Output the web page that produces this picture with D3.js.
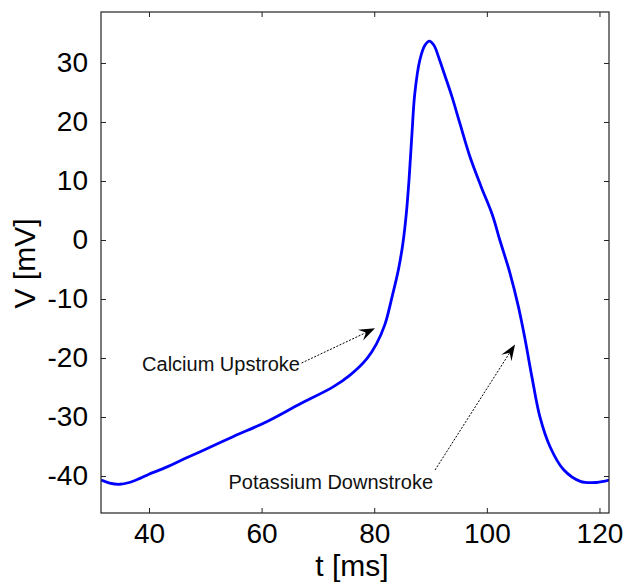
<!DOCTYPE html>
<html><head><meta charset="utf-8">
<script src="https://cdn.jsdelivr.net/npm/d3@7"></script>
<style>html,body{margin:0;padding:0;background:#fff;}svg{display:block;}</style>
</head><body>
<svg id="chart" width="628" height="586"></svg>
<script>
// Time (ms) and membrane voltage (mV)
const timeMs = [31.5, 33, 34.8, 36.5, 38.4, 40, 43.1, 46, 49.1, 55, 60.9, 66.8, 72.7, 75.7, 78.7, 80.4, 81.9, 83.2, 84.3, 85.1, 85.7, 86.2, 86.7, 87.2, 88.1, 89.0, 89.8, 90.6, 91.5, 92.5, 93.8, 95.2, 97, 99.0, 101.0, 102.3, 104.1, 105.6, 106.8, 108, 109.4, 111.2, 113.6, 116.6, 119.5, 121.7];
const voltage = [-40.7, -41.2, -41.4, -41.1, -40.4, -39.7, -38.5, -37.2, -35.9, -33.3, -30.8, -27.8, -24.9, -22.9, -20.1, -17.6, -14.3, -9.5, -5.0, -0.5, 4.5, 10.5, 18.0, 24.8, 30.5, 33.0, 33.7, 33.0, 30.8, 28.0, 24.3, 19.8, 14.1, 9.0, 4.2, 0, -5.6, -11.3, -16.9, -23.2, -29.9, -35, -38.9, -40.9, -41.1, -40.7];

const xTicks = [40, 60, 80, 100, 120];
const yTicks = [-40, -30, -20, -10, 0, 10, 20, 30];
const xDomain = [31.48, 121.69];
const yDomain = [-46.27, 38.64];

// Annotations (data coordinates)
const annLabels = ["Calcium Upstroke", "Potassium Downstroke"];
const annTextT = [66.8, 90.44];
const annTextV = [-21.0, -40.97];
const annTailT = [67.1, 90.8];
const annTailV = [-20.85, -38.98];
const annTipT = [80.14, 105.0];
const annTipV = [-14.97, -17.7];

const svg = d3.select("#chart");
const L = 101, R = 609, T = 12, B = 513;
const x = d3.scaleLinear().domain(xDomain).range([L, R]);
const y = d3.scaleLinear().domain(yDomain).range([B, T]);
const font = "'Liberation Sans', Arial, Helvetica, sans-serif";
const axisColor = "#222";
const fmt = d => String(d);

svg.append("defs").append("clipPath").attr("id", "clip")
  .append("rect").attr("x", L).attr("y", T).attr("width", R - L).attr("height", B - T);

// curve
const pts = timeMs.map((t, i) => [t, voltage[i]]);
svg.append("path").datum(pts)
  .attr("clip-path", "url(#clip)")
  .attr("fill", "none").attr("stroke", "#0000ff").attr("stroke-width", 2.8)
  .attr("stroke-linejoin", "round")
  .attr("d", d3.line().x(d => x(d[0])).y(d => y(d[1])).curve(d3.curveCatmullRom.alpha(0.5)));

// axes with inward ticks on all four sides
const tl = 5;
const gB = svg.append("g").attr("transform", `translate(0,${B})`)
  .call(d3.axisBottom(x).tickValues(xTicks).tickSizeInner(-tl).tickSizeOuter(0).tickPadding(12).tickFormat(fmt));
const gT = svg.append("g").attr("transform", `translate(0,${T})`)
  .call(d3.axisTop(x).tickValues(xTicks).tickSizeInner(-tl).tickSizeOuter(0).tickFormat(""));
const gL = svg.append("g").attr("transform", `translate(${L},0)`)
  .call(d3.axisLeft(y).tickValues(yTicks).tickSizeInner(-tl).tickSizeOuter(0).tickPadding(13).tickFormat(fmt));
const gR = svg.append("g").attr("transform", `translate(${R},0)`)
  .call(d3.axisRight(y).tickValues(yTicks).tickSizeInner(-tl).tickSizeOuter(0).tickFormat(""));
[gB, gT, gL, gR].forEach(g => {
  g.select(".domain").remove();
  g.selectAll(".tick line").attr("stroke", axisColor).attr("stroke-width", 1);
  g.selectAll("text").attr("font-family", font).attr("font-size", 28).attr("fill", "#000");
});
gB.selectAll(".tick text").attr("dy", "0.66em");
svg.append("rect").attr("x", L).attr("y", T).attr("width", R - L).attr("height", B - T)
  .attr("fill", "none").attr("stroke", axisColor).attr("stroke-width", 1.2);

// axis labels
svg.append("text").attr("x", (L + R) / 2 - 3).attr("y", 576)
  .attr("text-anchor", "middle").attr("font-family", font).attr("font-size", 30).text("t [ms]");
svg.append("text").attr("transform", `translate(35,${(T + B) / 2 + 1}) rotate(-90)`)
  .attr("text-anchor", "middle").attr("font-family", font).attr("font-size", 30).text("V [mV]");

// annotations
annLabels.forEach((lab, i) => {
  const x0 = x(annTailT[i]), y0 = y(annTailV[i]);
  const x1 = x(annTipT[i]), y1 = y(annTipV[i]);
  const ang = Math.atan2(y1 - y0, x1 - x0);
  const hl = 16, hw = 6, notch = 10;
  const ux = Math.cos(ang), uy = Math.sin(ang), px = -uy, py = ux;
  const bx = x1 - ux * notch, by = y1 - uy * notch;
  svg.append("line").attr("x1", x0).attr("y1", y0).attr("x2", bx).attr("y2", by)
    .attr("stroke", "#000").attr("stroke-width", 1).attr("stroke-dasharray", "2,1.5");
  const head = [
    [x1, y1],
    [x1 - ux * hl + px * hw, y1 - uy * hl + py * hw],
    [bx, by],
    [x1 - ux * hl - px * hw, y1 - uy * hl - py * hw]
  ];
  svg.append("path").attr("d", "M" + head.map(p => p.join(",")).join("L") + "Z").attr("fill", "#000");
  svg.append("text").attr("x", x(annTextT[i])).attr("y", y(annTextV[i]))
    .attr("text-anchor", "end").attr("dy", "0.35em")
    .attr("font-family", font).attr("font-size", 20).attr("fill", "#111").text(lab);
});
</script>
</body></html>
